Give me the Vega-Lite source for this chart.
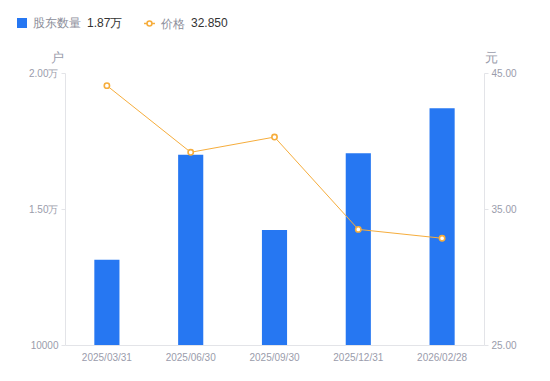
{
  "$schema": "https://vega.github.io/schema/vega-lite/v6.json",
  "width": 419,
  "height": 272,
  "autosize": {"type": "none"},
  "padding": {"left": 65, "top": 73, "right": 66, "bottom": 36},
  "config": {
    "font": "Liberation Sans",
    "view": {"stroke": null},
    "axis": {"labelColor": "#9a9cab", "labelFontSize": 10, "domainColor": "#e3e4e8", "tickColor": "#e3e4e8", "grid": false, "titleColor": "#9a9cab", "titleFontWeight": "normal", "titleFontSize": 12}
  },
  "data": {
    "values": [
      {"date": "2025/03/31", "holders": 13130, "price": 44.07, "s": "股东数量", "s2": "价格"},
      {"date": "2025/06/30", "holders": 16990, "price": 39.17, "s": "股东数量", "s2": "价格"},
      {"date": "2025/09/30", "holders": 14230, "price": 40.29, "s": "股东数量", "s2": "价格"},
      {"date": "2025/12/31", "holders": 17050, "price": 33.50, "s": "股东数量", "s2": "价格"},
      {"date": "2026/02/28", "holders": 18700, "price": 32.85, "s": "股东数量", "s2": "价格"}
    ]
  },
  "encoding": {
    "x": {
      "field": "date", "type": "ordinal", "sort": null,
      "scale": {"paddingInner": 0.7, "paddingOuter": 0.35},
      "axis": {"title": null, "labelAngle": 0, "ticks": false, "labelPadding": 7, "domainColor": "#e3e4e8"}
    }
  },
  "layer": [
    {
      "mark": {"type": "bar", "color": "#2677f2", "clip": true},
      "encoding": {
        "y": {
          "field": "holders", "type": "quantitative",
          "scale": {"domain": [10000, 20000], "zero": false, "nice": false},
          "axis": {
            "title": "户", "titleAngle": 0, "titleAlign": "center", "titleBaseline": "bottom", "titleX": -8, "titleY": -9, "titleFontSize": 13,
            "values": [10000, 15000, 20000], "tickSize": 4, "labelPadding": 3,
            "labelExpr": "datum.value >= 15000 ? format(datum.value / 10000, '.2f') + '万' : datum.value"
          }
        },
        "y2": {"datum": 10000},
        "fill": {
          "field": "s", "type": "nominal",
          "scale": {"range": ["#2677f2"]},
          "legend": {
            "orient": "none", "legendX": -49, "legendY": -56,
            "title": "1.87万", "titleOrient": "right", "titleFontWeight": "normal", "titleColor": "#333333", "titleFontSize": 12, "titlePadding": 6,
            "symbolType": "square", "symbolSize": 100, "labelFontSize": 12, "labelColor": "#8c8e9a", "labelOffset": 5
          }
        }
      }
    },
    {
      "mark": {"type": "line", "strokeWidth": 1, "point": {"filled": false, "fill": "white", "size": 28, "strokeWidth": 1.6}},
      "encoding": {
        "y": {
          "field": "price", "type": "quantitative",
          "scale": {"domain": [25, 45], "zero": false, "nice": false},
          "axis": {
            "orient": "right", "title": "元", "titleAngle": 0, "titleAlign": "center", "titleBaseline": "bottom", "titleX": 7, "titleY": -9, "titleFontSize": 13,
            "values": [25, 35, 45], "format": ".2f", "tickSize": 4, "labelPadding": 3
          }
        },
        "stroke": {
          "field": "s2", "type": "nominal",
          "scale": {"range": ["#f6ad3c"]},
          "legend": {
            "orient": "none", "legendX": 78, "legendY": -56,
            "title": "32.850", "titleOrient": "right", "titleFontWeight": "normal", "titleColor": "#333333", "titleFontSize": 12, "titlePadding": 6,
            "symbolType": "M-1,0H-0.45M0.45,0H1M0,-0.45A0.45,0.45 0 1,1 0,0.45A0.45,0.45 0 1,1 0,-0.45Z",
            "symbolSize": 120, "symbolStrokeWidth": 1.6, "symbolFillColor": "white", "labelFontSize": 12, "labelColor": "#8c8e9a", "labelOffset": 5
          }
        }
      }
    }
  ],
  "resolve": {"scale": {"y": "independent"}}
}
